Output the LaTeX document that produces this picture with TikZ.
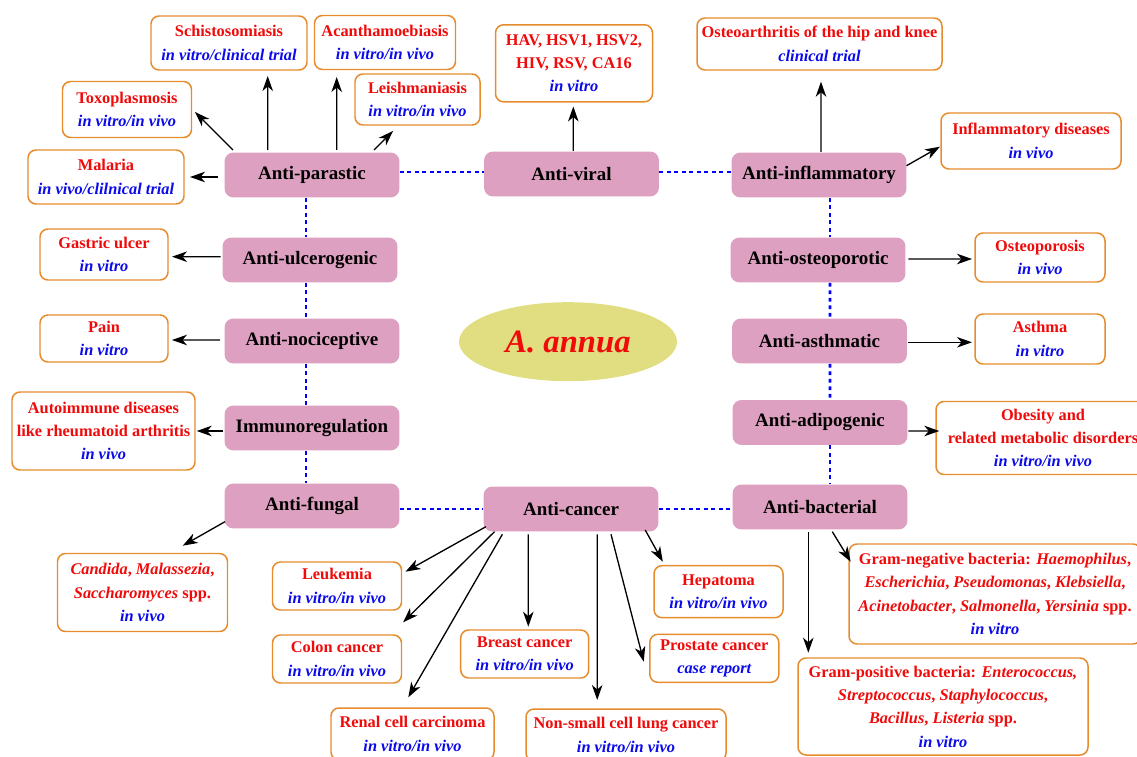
\documentclass[tikz,border=0pt]{standalone}
\usepackage{fontspec}
\setmainfont{Liberation Serif}
\usetikzlibrary{arrows.meta,calc,shapes.geometric}
\definecolor{effpink}{RGB}{222,160,192}
\definecolor{annuafill}{RGB}{224,222,128}
\definecolor{edgeorange}{RGB}{230,140,45}
\definecolor{dred}{RGB}{240,10,10}
\definecolor{dblue}{RGB}{10,10,235}
\definecolor{linkblue}{RGB}{0,0,255}
\newcommand{\study}[1]{{\color{dblue}\itshape #1}}
\tikzset{
  effect/.style={fill=effpink, rounded corners=0.18cm, minimum width=3.5cm,
    minimum height=0.9cm, inner sep=0pt, font=\fontsize{10.8}{13}\selectfont\bfseries},
  disease/.style={draw=edgeorange, line width=0.85pt, fill=white, rounded corners=0.16cm,
    align=center, inner sep=0pt, text=dred, font=\fontsize{9.3}{13.3}\selectfont\bfseries},
  sz/.style 2 args={minimum width=#1*0.02cm, minimum height=#2*0.02cm},
  arr/.style={-{Stealth[length=0.3cm,width=0.21cm,inset=0.09cm]}, line width=0.75pt},
  link/.style={linkblue, line width=1.6pt, dash pattern=on 0.075cm off 0.075cm}
}
\begin{document}
\begin{tikzpicture}[x=0.02cm,y=-0.02cm]
  \useasboundingbox (0,0) rectangle (1137,757);
  \clip (0,0) rectangle (1137,757);
  % effects
  \node[effect] (parastic) at (312,175) {Anti-parastic};
  \node[effect] (viral) at (571.5,174) {Anti-viral};
  \node[effect] (inflam) at (819,175) {Anti-inflammatory};
  \node[effect] (ulcer) at (310,260) {Anti-ulcerogenic};
  \node[effect] (osteop) at (818,260) {Anti-osteoporotic};
  \node[effect] (nocic) at (312,341) {Anti-nociceptive};
  \node[effect] (asthm) at (819.5,341) {Anti-asthmatic};
  \node[effect] (immuno) at (312,428) {Immunoregulation};
  \node[effect] (adipo) at (820,422.5) {Anti-adipogenic};
  \node[effect] (fungal) at (312,506) {Anti-fungal};
  \node[effect] (cancer) at (571,509) {Anti-cancer};
  \node[effect] (bact) at (820,507) {Anti-bacterial};
  \node[ellipse, fill=annuafill, sz={218}{79}, inner sep=0pt, text=dred,
    font=\fontsize{18.6}{20}\selectfont\bfseries\itshape] (annua) at (568,341.7) {A. annua};
  % diseases
  \node[disease, sz={156}{54}] (schisto) at (229,43) {Schistosomiasis\\\study{in vitro/clinical trial}};
  \node[disease, sz={141}{54}] (acanth) at (385,42.5) {Acanthamoebiasis\\\study{in vitro/in vivo}};
  \node[disease, sz={129}{56}] (toxo) at (127,109.5) {Toxoplasmosis\\\study{in vitro/in vivo}};
  \node[disease, sz={125}{51}] (leish) at (417.5,99.5) {Leishmaniasis\\\study{in vitro/in vivo}};
  \node[disease, sz={156}{54}] (malaria) at (106,177) {Malaria\\\study{in vivo/clilnical trial}};
  \node[disease, sz={157}{77}] (hav) at (574,63.3) {HAV, HSV1, HSV2,\\HIV, RSV, CA16\\\study{in vitro}};
  \node[disease, sz={245}{52}] (osteoarth) at (819.5,44) {Osteoarthritis of the hip and knee\\\study{clinical trial}};
  \node[disease, sz={180}{56}] (infldis) at (1031,141) {Inflammatory diseases\\\study{in vivo}};
  \node[disease, sz={128}{51}] (gastric) at (104,254.5) {Gastric ulcer\\\study{in vitro}};
  \node[disease, sz={130}{49}] (osteopor) at (1040,257.5) {Osteoporosis\\\study{in vivo}};
  \node[disease, sz={128}{47}] (pain) at (104,338.5) {Pain\\\study{in vitro}};
  \node[disease, sz={130}{50}] (asthma) at (1040,339) {Asthma\\\study{in vitro}};
  \node[disease, sz={183}{78}] (autoimm) at (103.5,431) {Autoimmune diseases\\like rheumatoid arthritis\\\study{in vivo}};
  \node[disease, sz={214}{73}] (obesity) at (1043,438) {Obesity and\\related metabolic disorders\\\study{in vitro/in vivo}};
  \node[disease, sz={170}{78}] (candida) at (142.5,592.5) {\textit{Candida}, \textit{Malassezia},\\\textit{Saccharomyces} spp.\\\study{in vivo}};
  \node[disease, sz={129}{48}] (leuk) at (337,586) {Leukemia\\\study{in vitro/in vivo}};
  \node[disease, sz={129}{48}] (colon) at (337,659) {Colon cancer\\\study{in vitro/in vivo}};
  \node[disease, sz={163}{52}] (renal) at (412.5,734) {Renal cell carcinoma\\\study{in vitro/in vivo}};
  \node[disease, sz={128}{48}] (breast) at (524.7,654) {Breast cancer\\\study{in vitro/in vivo}};
  \node[disease, sz={200}{52}] (nsclc) at (626,735) {Non-small cell lung cancer\\\study{in vitro/in vivo}};
  \node[disease, sz={129}{52}] (hepat) at (718.5,591.7) {Hepatoma\\\study{in vitro/in vivo}};
  \node[disease, sz={129}{48}] (prost) at (714.3,658.3) {Prostate cancer\\\study{case report}};
  \node[disease, sz={292}{100}] (gramneg) at (995,594) {Gram-negative bacteria: \textit{Haemophilus},\\\textit{Escherichia}, \textit{Pseudomonas}, \textit{Klebsiella},\\\textit{Acinetobacter}, \textit{Salmonella}, \textit{Yersinia} spp.\\\study{in vitro}};
  \node[disease, sz={290}{97}] (grampos) at (943,706.5) {Gram-positive bacteria: \textit{Enterococcus,}\\\textit{Streptococcus}, \textit{Staphylococcus},\\\textit{Bacillus}, \textit{Listeria} spp.\\\study{in vitro}};
  % dotted links
  \draw[link] ($(parastic.east)+(0,-3)$) -- ($(viral.west)+(0,-2)$);
  \draw[link] ($(viral.east)+(0,-2)$) -- ($(inflam.west)+(0,-3)$);
  \draw[link] ($(fungal.east)+(0,3)$) -- (cancer.west);
  \draw[link] (cancer.east) -- ($(bact.west)+(0,2)$);
  \draw[link] ($(parastic.south)+(-6,0)$) -- ($(ulcer.north)+(-4,0)$);
  \draw[link] ($(ulcer.south)+(-4,0)$) -- ($(nocic.north)+(-6,0)$);
  \draw[link] ($(nocic.south)+(-6,0)$) -- ($(immuno.north)+(-6,0)$);
  \draw[link] ($(immuno.south)+(-6,0)$) -- ($(fungal.north)+(-6,0)$);
  \draw[link] ($(inflam.south)+(11,0)$) -- ($(osteop.north)+(12,0)$);
  \draw[link] ($(osteop.south)+(12,0)$) -- ($(asthm.north)+(10.5,0)$);
  \draw[link] ($(asthm.south)+(10.5,0)$) -- ($(adipo.north)+(10,0)$);
  \draw[link] ($(adipo.south)+(10,0)$) -- ($(bact.north)+(10,0)$);
  % arrows
  \draw[arr] ($(parastic)+(-94,2)$) -- ($(malaria)+(84,0)$);
  \draw[arr] ($(parastic)+(-79,-25)$) -- ($(toxo)+(68,2.5)$);
  \draw[arr] ($(parastic)+(-44.3,-25)$) -- ($(schisto)+(38.7,33)$);
  \draw[arr] ($(parastic)+(24.7,-25)$) -- ($(acanth)+(-48.3,34.5)$);
  \draw[arr] ($(parastic)+(62,-25)$) -- ($(leish)+(-24.5,31.5)$);
  \draw[arr] ($(viral)+(1.8,-23)$) -- ($(hav)+(-0.7,43.2)$);
  \draw[arr] ($(inflam)+(2,-23)$) -- ($(osteoarth)+(1.5,37.7)$);
  \draw[arr] ($(inflam)+(87.5,-9.3)$) -- ($(infldis)+(-91,5.7)$);
  \draw[arr] ($(ulcer)+(-89.3,-3.3)$) -- ($(gastric)+(68,2.2)$);
  \draw[arr] ($(nocic)+(-92,-1)$) -- ($(pain)+(68,1.5)$);
  \draw[arr] ($(immuno)+(-88.7,3)$) -- ($(autoimm)+(93.2,0)$);
  \draw[arr] ($(fungal)+(-87,15.7)$) -- ($(candida)+(40.2,-46.8)$);
  \draw[arr] ($(osteop)+(90.3,-1)$) -- ($(osteopor)+(-68,1.5)$);
  \draw[arr] ($(asthm)+(88.8,1.3)$) -- ($(asthma)+(-68,3.3)$);
  \draw[arr] ($(adipo)+(88.3,8.5)$) -- ($(obesity)+(-103.7,-7)$);
  \draw[arr] ($(bact)+(12.3,24.7)$) -- ($(gramneg)+(-144.3,-32.3)$);
  \draw[arr] ($(bact)+(-11.7,24.7)$) -- ($(grampos)+(-134.7,-53.8)$);
  \draw[arr] ($(cancer)+(-85.1,17.7)$) -- ($(leuk)+(68.5,-14.3)$);
  \draw[arr] ($(cancer)+(-76.5,22.7)$) -- ($(colon)+(66.1,-36.7)$);
  \draw[arr] ($(cancer)+(-68.6,25.3)$) -- ($(renal)+(-4.2,-36.7)$);
  \draw[arr] ($(cancer)+(-42.7,25.3)$) -- ($(breast)+(3.6,-27.3)$);
  \draw[arr] ($(cancer)+(26.2,25.3)$) -- ($(nsclc)+(-28.8,-35)$);
  \draw[arr] ($(cancer)+(40,25.3)$) -- ($(prost)+(-70.5,3.4)$);
  \draw[arr] ($(cancer)+(74.2,21)$) -- ($(hepat)+(-55.7,-30)$);
\end{tikzpicture}
\end{document}
